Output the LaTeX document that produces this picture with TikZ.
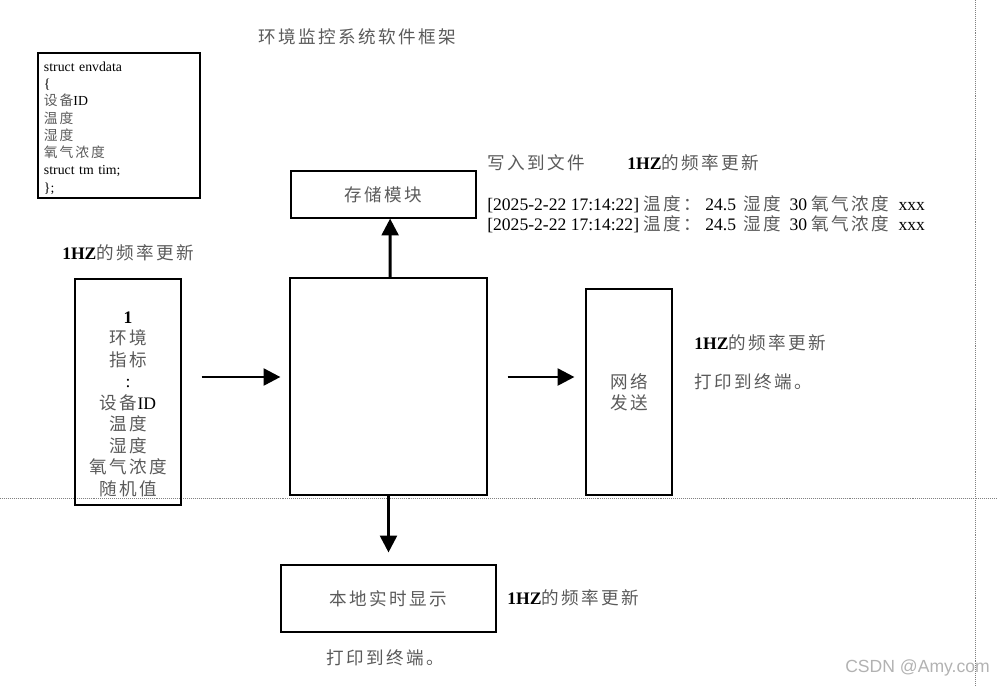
\documentclass[tikz,border=0pt]{standalone}
\usepackage{fontspec}
\setmainfont{Liberation Serif}
\newfontfamily\cjk[LetterSpace=14]{Noto Sans CJK SC}
\newfontfamily\marksans{Liberation Sans}
\usetikzlibrary{arrows.meta}
\definecolor{cngray}{HTML}{5A5A5A}
\newcommand{\cn}[1]{{\cjk\color{cngray}#1}}
\newcommand{\hz}{\textbf{1HZ}\cn{的频率更新}}
\newcommand{\logline}{[2025-2-22 17:14:22] \cn{温度：}\hspace{3pt}24.5\hspace{2pt} \cn{湿度}\hspace{3pt} 30 \cn{氧气浓度}\hspace{3.5pt} xxx}
\tikzstyle{block} = [rectangle,
draw=black,
line width=0.8pt]
\tikzstyle{label} = [inner sep=0pt]
\tikzstyle{arrow} = [line width=2pt,-{Triangle[length=4.2mm,width=4.2mm]}]

\begin{document}
\begin{tikzpicture}[x=0.025cm, y=-0.025cm, every node/.style={font=\fontsize{12.5}{15}\selectfont}]
\useasboundingbox (0,0) rectangle (997,687);

% Page guides
\draw [densely dotted, gray] (0,498) -- (997,498);
\draw [densely dotted, gray] (975,0) -- (975,687);

% Nodes
\node (title) [label] at (357,37) {\cn{环境监控系统软件框架}};

\node (struct) [block, minimum width=4.05cm, minimum height=3.625cm] at (119,125.5) {};
\node (structtext) [label, text width=3.85cm, align=left,
font=\fontsize{9.8}{12.3}\selectfont] at (121,128)
{struct envdata\\ \{\\ \cn{设备}ID\\ \cn{温度}\\ \cn{湿度}\\ \cn{氧气浓度}\\ struct tm tim;\\ \};};

\node (storage) [block, minimum width=4.625cm, minimum height=1.175cm] at (383.5,194.5) {\cn{存储模块}};

\node (write) [label, anchor=west] at (487,163) {\cn{写入到文件}};
\node (writehz) [label, anchor=west] at (627,163) {\hz};
\node (log1) [label, anchor=west] at (487,204) {\logline};
\node (log2) [label, anchor=west] at (487,224) {\logline};

\node (envhz) [label, anchor=west] at (62,253) {\hz};
\node (env) [block, minimum width=2.65cm, minimum height=5.65cm] at (128,392) {};
\node (envtext) [label, align=center, font=\fontsize{12.5}{15.3}\selectfont] at (128,404)
{\textbf{1}\\ \cn{环境}\\ \cn{指标}\\ :\\ \cn{设备}ID\\ \cn{温度}\\ \cn{湿度}\\ \cn{氧气浓度}\\ \cn{随机值}};

\node (center) [block, minimum width=4.925cm, minimum height=5.425cm] at (388.5,386.5) {};

\node (network) [block, minimum width=2.15cm, minimum height=5.15cm, align=center] at (629,392) {\cn{网络}\\ \cn{发送}};
\node (nethz) [label, anchor=west] at (694,343) {\hz};
\node (netprint) [label, anchor=west] at (694,382) {\cn{打印到终端。}};

\node (local) [block, minimum width=5.375cm, minimum height=1.675cm] at (388.5,598.5) {\cn{本地实时显示}};
\node (localhz) [label, anchor=west] at (507,598) {\hz};
\node (localprint) [label] at (385.5,658) {\cn{打印到终端。}};

\node (mark) [anchor=west, inner sep=0pt, text=gray!60, font=\marksans\fontsize{12.5}{14}\selectfont] at (845,668) {CSDN @Amy.com};

% Connections
\draw [arrow] ([shift={(20,-15)}]env.east) -- ([shift={(-9,-9.5)}]center.west);
\draw [arrow] ([shift={(20,-9.5)}]center.east) -- ([shift={(-11,-15)}]network.west);
\draw [arrow] ([xshift=0.04cm]center.north) -- ([xshift=0.165cm]storage.south);
\draw [arrow, shorten >=0.3cm] (center.south) -- (local.north);

\end{tikzpicture}
\end{document}
